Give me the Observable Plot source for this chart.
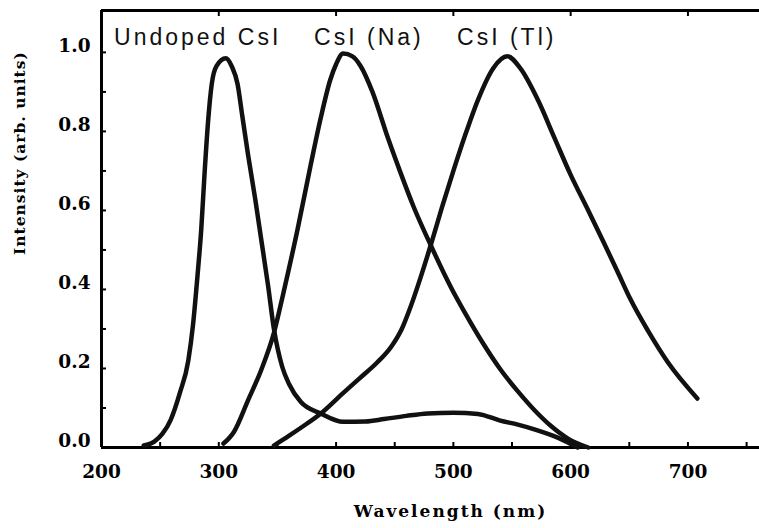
<!DOCTYPE html>
<html>
<head>
<meta charset="utf-8">
<script src="https://cdn.jsdelivr.net/npm/d3@7"></script>
<script src="https://cdn.jsdelivr.net/npm/@observablehq/plot@0.6"></script>
<style>
  html, body { margin: 0; padding: 0; background: #fff; }
  #chart svg { display: block; }
</style>
</head>
<body>
<div id="chart"></div>
<script>
// --- data ---
const undopedNm = [236,245,252,259,267,274,278,282,285,288,291,294,298,306,311,316,320,325,331,336,342,347,354,360,370,387,406,425,441,460,478,500,521,540,555,569,589,606];
const undopedVal = [0.005,0.015,0.035,0.07,0.14,0.22,0.31,0.44,0.55,0.70,0.83,0.92,0.965,0.985,0.965,0.92,0.84,0.74,0.63,0.53,0.41,0.30,0.205,0.16,0.115,0.086,0.065,0.066,0.072,0.08,0.086,0.088,0.085,0.068,0.058,0.046,0.025,0];

const naNm = [304,313,325,336,347,355,367,378,387,395,400,406,414,421,431,444,455,466,481,498,511,525,540,555,569,583,598,615];
const naVal = [0.01,0.04,0.12,0.195,0.29,0.39,0.55,0.71,0.835,0.93,0.97,0.997,0.99,0.965,0.90,0.785,0.695,0.61,0.51,0.405,0.335,0.265,0.198,0.142,0.095,0.055,0.022,0];

const tlNm = [347,360,370,387,405,420,435,447,456,464,472,481,490,500,510,521,534,546,557,572,586,600,615,628,640,651,666,683,708];
const tlVal = [0.005,0.03,0.05,0.086,0.135,0.175,0.215,0.255,0.30,0.36,0.43,0.515,0.605,0.70,0.79,0.88,0.96,0.99,0.96,0.88,0.785,0.69,0.60,0.52,0.445,0.375,0.295,0.215,0.124];

const seriesNames = ["Undoped CsI", "CsI (Na)", "CsI (Tl)"];
const labelNm = [282, 428, 545.5];   // label centre wavelength
const labelVal = [1.018, 1.018, 1.018];

const xTicks = [200, 300, 400, 500, 600, 700];
const xMinorTicks = [200,250,300,350,400,450,500,550,600,650,700,750];
const yTicks = [0, 0.2, 0.4, 0.6, 0.8, 1.0];
const yMinorTicks = [0,0.1,0.2,0.3,0.4,0.5,0.6,0.7,0.8,0.9,1.0];
const xDomain = [200, 761];
const yDomain = [0, 1.106];

const xTitle = "Wavelength (nm)";
const yTitle = "Intensity (arb. units)";

// --- build table ---
const rows = [];
[[undopedNm, undopedVal], [naNm, naVal], [tlNm, tlVal]].forEach(([xs, ys], k) => {
  xs.forEach((x, i) => rows.push({series: seriesNames[k], nm: x, v: ys[i]}));
});
const labels = seriesNames.map((s, i) => ({name: s, nm: labelNm[i], v: labelVal[i]}));

const serif = "DejaVu Serif";
const sans = "Liberation Sans";

const chart = Plot.plot({
  width: 759,
  height: 528,
  marginLeft: 101,
  marginRight: 0,
  marginTop: 10,
  marginBottom: 81,
  style: {background: "#fff", color: "#000", fontFamily: serif},
  x: {domain: xDomain},
  y: {domain: yDomain},
  marks: [
    // inward minor ticks
    Plot.axisX(xMinorTicks, {anchor: "bottom", tickSize: 5, dy: -5, tickFormat: () => "", label: null, strokeWidth: 2}),
    Plot.axisX(xTicks.slice(1), {anchor: "top", tickSize: 5, dy: 5, tickFormat: () => "", label: null, strokeWidth: 2}),
    Plot.axisY(yMinorTicks, {anchor: "left", tickSize: 5, dx: 5, tickFormat: () => "", label: null, strokeWidth: 2}),
    // tick labels
    Plot.axisX(xTicks, {anchor: "bottom", tickSize: 0, tickPadding: 17, label: null, fontSize: 18.5, fontWeight: "bold", fontFamily: serif}),
    Plot.axisY(yTicks, {anchor: "left", tickSize: 0, tickPadding: 11, dy: -6, label: null, tickFormat: d3.format(".1f"), fontSize: 18.5, fontWeight: "bold", fontFamily: serif}),
    // frame lines
    Plot.ruleX([xDomain[0]], {strokeWidth: 3}),
    Plot.ruleY([yDomain[0]], {strokeWidth: 3}),
    Plot.ruleY([yDomain[1]], {strokeWidth: 3}),
    // curves
    Plot.line(rows, {x: "nm", y: "v", z: "series", stroke: "#111", strokeWidth: 4.5, curve: "monotone-x"}),
    // curve labels
    Plot.text(labels, {x: "nm", y: "v", text: "name", textAnchor: "middle", lineAnchor: "bottom", fontSize: 23, fontFamily: sans, fill: "#111"}),
    // axis titles
    Plot.text([xTitle], {text: d => d, frameAnchor: "bottom", dx: 20, dy: 64, lineAnchor: "middle", fontSize: 17, fontWeight: "bold", fontFamily: serif}),
    Plot.text([yTitle], {text: d => d, frameAnchor: "left", rotate: -90, dx: -81, dy: 26, lineAnchor: "middle", fontSize: 15.5, fontWeight: "bold", fontFamily: serif})
  ]
});
document.getElementById("chart").appendChild(chart);

// horizontal stretch of scanned lettering
d3.select(chart).selectAll("text").each(function() {
  const t = this.textContent;
  if (seriesNames.includes(t)) this.setAttribute("letter-spacing", "3");
  else if (t === xTitle) this.setAttribute("letter-spacing", "2");
  else if (t === yTitle) this.setAttribute("letter-spacing", "1");
});
</script>
</body>
</html>
